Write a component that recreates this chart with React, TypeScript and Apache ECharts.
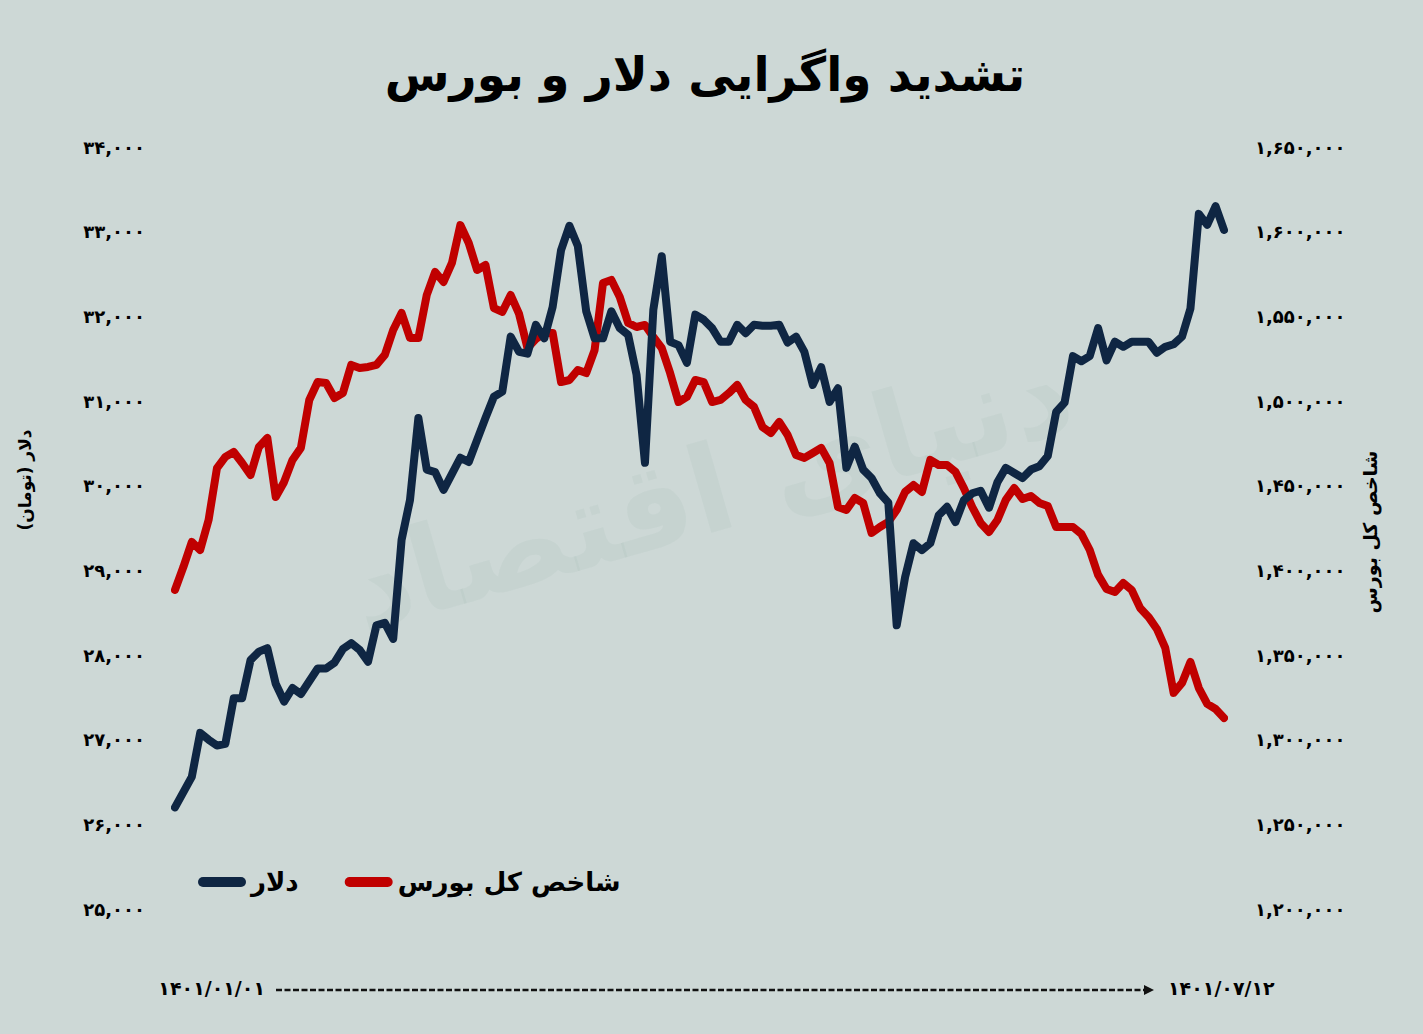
import React, { useEffect, useRef } from "react";
import * as echarts from "echarts";

const TITLE = "تشدید واگرایی دلار و بورس";
const DOLLAR_NAME = "دلار";
const INDEX_NAME = "شاخص کل بورس";
const LEFT_AXIS_NAME = "دلار (تومان)";
const RIGHT_AXIS_NAME = "شاخص کل بورس";
const START_DATE = "۱۴۰۱/۰۱/۰۱";
const END_DATE = "۱۴۰۱/۰۷/۱۲";
const WATERMARK = "دنیای اقتصاد";

const dollarValues = [
  26200, 26380, 26560, 27080, 27000, 26930, 26950, 27490, 27490, 27940,
  28040, 28080, 27660, 27450, 27610, 27540, 27690, 27840, 27840, 27910,
  28070, 28140, 28060, 27920, 28350, 28380, 28190, 29360, 29830, 30800,
  30190, 30160, 29950, 30140, 30330, 30280, 30540, 30800, 31050, 31110,
  31760, 31580, 31560, 31900, 31740, 32110, 32780, 33070, 32830, 32060,
  31740, 31740, 32060, 31860, 31780, 31310, 30270, 32080, 32710, 31700,
  31660, 31450, 32020, 31960, 31860, 31700, 31700, 31900, 31800, 31900,
  31890, 31890, 31900, 31690, 31760, 31580, 31190, 31400, 30990, 31150,
  30210, 30460, 30190, 30090, 29910, 29800, 28350, 28920, 29320, 29240,
  29320, 29650, 29750, 29570, 29830, 29910, 29940, 29740, 30040, 30210,
  30150, 30090, 30190, 30230, 30350, 30870, 30980, 31530, 31470, 31530,
  31860, 31480, 31700, 31640, 31700, 31700, 31700, 31570, 31640, 31670,
  31760, 32090, 33210, 33080, 33300, 33020,
];

const indexValues = [
  1388400, 1402000, 1416750, 1412000, 1429700, 1460400, 1467000, 1469900, 1463400, 1456300,
  1472850, 1478200, 1443300, 1452200, 1465200, 1472300, 1500600, 1511200, 1510600, 1501800,
  1504700, 1521300, 1519500, 1520100, 1521300, 1527200, 1541900, 1552000, 1537200, 1537200,
  1562600, 1576200, 1570300, 1581500, 1603900, 1593300, 1577400, 1580300, 1554900, 1552600,
  1562600, 1551400, 1531300, 1536600, 1540200, 1540200, 1511200, 1512400, 1518300, 1516500,
  1530100, 1569700, 1571500, 1561400, 1546100, 1543700, 1544900, 1537800, 1531300, 1516500,
  1499400, 1502400, 1512400, 1511200, 1499400, 1500600, 1504700, 1509500, 1500600, 1496500,
  1484700, 1481100, 1487600, 1479900, 1468100, 1466400, 1469300, 1472300, 1463400, 1437400,
  1435600, 1442700, 1439800, 1422100, 1425600, 1428600, 1435600, 1446300, 1450400, 1446300,
  1465200, 1462200, 1462200, 1458100, 1448600, 1437400, 1428000, 1422700, 1429700, 1441600,
  1448600, 1442100, 1443900, 1439800, 1438000, 1425600, 1425600, 1425600, 1421500, 1412000,
  1397300, 1389000, 1387200, 1392500, 1388400, 1377800, 1372500, 1365400, 1354200, 1327600,
  1333500, 1345900, 1330500, 1321100, 1318100, 1312800,
];

const days = dollarValues.map((_, i) => String(i + 1));

const DOLLAR_MIN = 25000;
const DOLLAR_MAX = 34000;
const DOLLAR_STEP = 1000;
const INDEX_MIN = 1200000;
const INDEX_MAX = 1650000;
const INDEX_STEP = 50000;

const FONT = "'DejaVu Sans', sans-serif";
const BG = "#cdd8d6";
const NAVY = "#0f2643";
const RED = "#c00000";

const faDigits = "۰۱۲۳۴۵۶۷۸۹";
const toFa = (v: number) =>
  Math.round(v)
    .toLocaleString("en-US")
    .replace(/[0-9]/g, (d) => faDigits[Number(d)]);

export default function App() {
  const ref = useRef<HTMLDivElement>(null);

  useEffect(() => {
    document.body.style.margin = "0";
    document.body.style.background = BG;
    if (!ref.current) return;
    const chart = echarts.init(ref.current, undefined, { renderer: "svg" });

    const legendIcon =
      "path://M5,0 H43 A5,5 0 0 1 43,10 H5 A5,5 0 0 1 5,0 Z";

    chart.setOption({
      animation: false,
      backgroundColor: BG,
      textStyle: { fontFamily: FONT },
      grid: { left: 175, right: 199, top: 147, bottom: 125, containLabel: false },
      legend: {
        left: 193,
        top: 864,
        data: [
          { name: DOLLAR_NAME, icon: legendIcon },
          { name: INDEX_NAME, icon: legendIcon },
        ],
        itemWidth: 48,
        itemHeight: 10,
        itemGap: 46,
        textStyle: {
          fontFamily: FONT,
          fontSize: 26,
          fontWeight: "bold",
          color: "#000",
        },
      },
      xAxis: {
        type: "category",
        data: days,
        boundaryGap: false,
        show: false,
      },
      yAxis: [
        {
          type: "value",
          min: DOLLAR_MIN,
          max: DOLLAR_MAX,
          interval: DOLLAR_STEP,
          position: "left",
          axisLine: { show: false },
          axisTick: { show: false },
          splitLine: { show: false },
          axisLabel: {
            margin: 30,
            formatter: (v: number) => toFa(v),
            fontFamily: FONT,
            fontSize: 18,
            fontWeight: "bold",
            color: "#000",
          },
        },
        {
          type: "value",
          min: INDEX_MIN,
          max: INDEX_MAX,
          interval: INDEX_STEP,
          position: "right",
          axisLine: { show: false },
          axisTick: { show: false },
          splitLine: { show: false },
          axisLabel: {
            margin: 31,
            formatter: (v: number) => toFa(v),
            fontFamily: FONT,
            fontSize: 18,
            fontWeight: "bold",
            color: "#000",
          },
        },
      ],
      series: [
        {
          name: INDEX_NAME,
          type: "line",
          yAxisIndex: 1,
          data: indexValues,
          showSymbol: false,
          symbol: "none",
          color: RED,
          lineStyle: { color: RED, width: 8, cap: "round", join: "round" },
          z: 3,
        },
        {
          name: DOLLAR_NAME,
          type: "line",
          yAxisIndex: 0,
          data: dollarValues,
          showSymbol: false,
          symbol: "none",
          color: NAVY,
          lineStyle: { color: NAVY, width: 8, cap: "round", join: "round" },
          z: 4,
        },
      ],
      graphic: [
        {
          type: "text",
          x: 710,
          y: 490,
          rotation: 0.28,
          z: 0,
          silent: true,
          style: {
            text: WATERMARK,
            fontFamily: FONT,
            fontSize: 120,
            fontWeight: "bold",
            fill: "rgba(120,150,140,0.07)",
            align: "center",
            verticalAlign: "middle",
          },
        },
        {
          type: "text",
          x: 705,
          y: 74,
          style: {
            text: TITLE,
            fontFamily: FONT,
            fontSize: 47,
            fontWeight: "bold",
            fill: "#000",
            align: "center",
            verticalAlign: "middle",
          },
        },
        {
          type: "text",
          x: 25,
          y: 480,
          rotation: Math.PI / 2,
          style: {
            text: LEFT_AXIS_NAME,
            fontFamily: FONT,
            fontSize: 17,
            fontWeight: "bold",
            fill: "#000",
            align: "center",
            verticalAlign: "middle",
          },
        },
        {
          type: "text",
          x: 1370,
          y: 532,
          rotation: Math.PI / 2,
          style: {
            text: RIGHT_AXIS_NAME,
            fontFamily: FONT,
            fontSize: 19,
            fontWeight: "bold",
            fill: "#000",
            align: "center",
            verticalAlign: "middle",
          },
        },
        {
          type: "text",
          x: 265,
          y: 988,
          style: {
            text: START_DATE,
            fontFamily: FONT,
            fontSize: 19,
            fontWeight: "bold",
            fill: "#000",
            align: "right",
            verticalAlign: "middle",
          },
        },
        {
          type: "text",
          x: 1168,
          y: 988,
          style: {
            text: END_DATE,
            fontFamily: FONT,
            fontSize: 19,
            fontWeight: "bold",
            fill: "#000",
            align: "left",
            verticalAlign: "middle",
          },
        },
        {
          type: "line",
          shape: { x1: 276, y1: 990, x2: 1146, y2: 990 },
          style: { stroke: "#111", lineWidth: 2.5, lineDash: [6, 2.5] },
        },
        {
          type: "polygon",
          shape: { points: [[1144, 985], [1154, 990], [1144, 995]] },
          style: { fill: "#111" },
        },
      ],
    });

    return () => chart.dispose();
  }, []);

  return <div ref={ref} style={{ width: 1423, height: 1034, background: BG }} />;
}
